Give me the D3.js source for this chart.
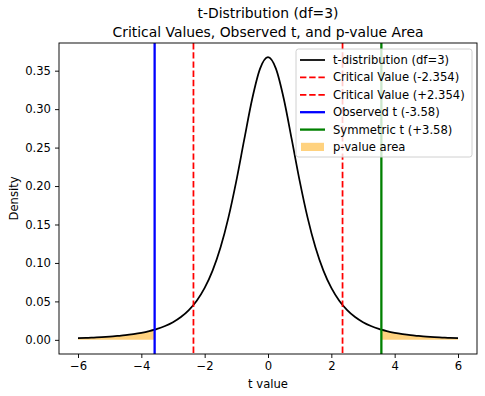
<!DOCTYPE html>
<html>
<head>
<meta charset="utf-8">
<script src="https://cdn.jsdelivr.net/npm/d3@7"></script>
<style>
  body { margin: 0; background: #fff; }
  svg { font-family: "DejaVu Sans", sans-serif; }
</style>
</head>
<body>
<script>
// t values (x) and density
const tValues = [0, 0.25, 0.5, 0.75, 1, 1.25, 1.5, 1.75, 2, 2.25, 2.5, 2.75, 3, 3.25, 3.5, 3.58, 3.75, 4, 4.25, 4.5, 4.75, 5, 5.25, 5.5, 5.75, 6]
const densityValues = [0.3676, 0.3527, 0.3132, 0.2606, 0.2067, 0.1589, 0.1200, 0.0900, 0.0675, 0.0509, 0.0387, 0.0297, 0.0230, 0.0180, 0.0142, 0.0132, 0.0114, 0.0092, 0.0075, 0.0061, 0.0051, 0.0042, 0.0035, 0.0030, 0.0025, 0.0022]
const criticalValue = 2.354
const observedT = -3.58
const xTicks = [-6, -4, -2, 0, 2, 4, 6]
const yTicks = [0, 0.05, 0.10, 0.15, 0.20, 0.25, 0.30, 0.35]
const legendLabels = ['t-distribution (df=3)', 'Critical Value (-2.354)', 'Critical Value (+2.354)', 'Observed t (-3.58)', 'Symmetric t (+3.58)', 'p-value area']

// symmetric curve
const curve = tValues.slice(1).reverse().map((t, i) => ({x: -t, y: densityValues.slice(1).reverse()[i]}))
    .concat(tValues.map((t, i) => ({x: t, y: densityValues[i]})))

const width = 485, height = 396
const margin = {top: 43, right: 8, bottom: 42, left: 59}
const fs = 11.6
const dash = '6.4,2.8'

const svg = d3.select('body').append('svg')
    .attr('width', width)
    .attr('height', height)

const x = d3.scaleLinear().domain([-6.6, 6.6]).range([margin.left, width - margin.right])
const y = d3.scaleLinear().domain([-0.0184, 0.386]).range([height - margin.bottom, margin.top])

svg.append('clipPath').attr('id', 'clip')
    .append('rect')
    .attr('x', margin.left).attr('y', margin.top)
    .attr('width', width - margin.left - margin.right)
    .attr('height', height - margin.top - margin.bottom)

const plot = svg.append('g').attr('clip-path', 'url(#clip)')

// p-value areas
const area = d3.area().x(d => x(d.x)).y0(y(0)).y1(d => y(d.y)).curve(d3.curveMonotoneX)
const absObs = Math.abs(observedT)
plot.append('path')
    .datum(curve.filter(d => d.x <= -absObs + 1e-9))
    .attr('fill', 'orange').attr('fill-opacity', 0.5)
    .attr('d', area)
plot.append('path')
    .datum(curve.filter(d => d.x >= absObs - 1e-9))
    .attr('fill', 'orange').attr('fill-opacity', 0.5)
    .attr('d', area)

// density curve
const line = d3.line().x(d => x(d.x)).y(d => y(d.y)).curve(d3.curveMonotoneX)
plot.append('path')
    .datum(curve)
    .attr('fill', 'none')
    .attr('stroke', 'black')
    .attr('stroke-width', 1.75)
    .attr('d', line)

// vertical lines
const vlines = [
    {v: -criticalValue, color: 'red', dash: dash},
    {v: criticalValue, color: 'red', dash: dash},
    {v: observedT, color: 'blue', dash: null},
    {v: -observedT, color: 'green', dash: null},
]
plot.selectAll('line.v')
    .data(vlines)
    .join('line')
    .attr('x1', d => x(d.v)).attr('x2', d => x(d.v))
    .attr('y1', margin.top).attr('y2', height - margin.bottom)
    .attr('stroke', d => d.color)
    .attr('stroke-width', d => d.dash ? 1.75 : 2.3)
    .attr('stroke-dasharray', d => d.dash)

// axes
const xAxis = svg.append('g')
    .attr('transform', `translate(0,${height - margin.bottom})`)
    .call(d3.axisBottom(x).tickValues(xTicks).tickSize(4).tickPadding(4).tickFormat(d => d3.format('d')(d).replace('-', '\u2212')))
const yAxis = svg.append('g')
    .attr('transform', `translate(${margin.left},0)`)
    .call(d3.axisLeft(y).tickValues(yTicks).tickSize(4).tickPadding(4).tickFormat(d3.format('.2f')))
for (const ax of [xAxis, yAxis]) {
    ax.select('.domain').remove()
    ax.selectAll('text').attr('font-size', fs).attr('fill', '#000').attr('font-family', 'DejaVu Sans')
    ax.selectAll('line').attr('stroke', '#000').attr('stroke-width', 0.93)
}

svg.append('rect')
    .attr('x', margin.left).attr('y', margin.top)
    .attr('width', width - margin.left - margin.right)
    .attr('height', height - margin.top - margin.bottom)
    .attr('fill', 'none').attr('stroke', '#000').attr('stroke-width', 0.93)

// labels
svg.append('text')
    .attr('x', (margin.left + width - margin.right) / 2).attr('y', height - 8)
    .attr('text-anchor', 'middle').attr('font-size', fs)
    .text('t value')
svg.append('text')
    .attr('transform', `translate(18,${(margin.top + height - margin.bottom) / 2}) rotate(-90)`)
    .attr('text-anchor', 'middle').attr('font-size', fs)
    .text('Density')
const title = svg.append('text')
    .attr('text-anchor', 'middle').attr('font-size', 13.9)
title.append('tspan').attr('x', (margin.left + width - margin.right) / 2).attr('y', 18).text('t-Distribution (df=3)')
title.append('tspan').attr('x', (margin.left + width - margin.right) / 2).attr('y', 37).text('Critical Values, Observed t, and p-value Area')

// legend
const legend = svg.append('g').attr('transform', 'translate(296,49)')
legend.append('rect')
    .attr('width', 176).attr('height', 108).attr('rx', 2.5)
    .attr('fill', 'white').attr('fill-opacity', 0.8)
    .attr('stroke', '#ccc').attr('stroke-width', 0.93)
const handles = [
    {color: 'black', dash: null, w: 1.75},
    {color: 'red', dash: dash, w: 1.75},
    {color: 'red', dash: dash, w: 1.75},
    {color: 'blue', dash: null, w: 2.3},
    {color: 'green', dash: null, w: 2.3},
    {color: 'orange', dash: null, w: 0, patch: true},
]
const rows = legend.selectAll('g.row')
    .data(legendLabels)
    .join('g')
    .attr('transform', (d, i) => `translate(0,${11 + i * 17.4})`)
rows.each(function (d, i) {
    const g = d3.select(this)
    const h = handles[i]
    if (h.patch) {
        g.append('rect').attr('x', 5).attr('y', -4.2).attr('width', 23).attr('height', 8.2)
            .attr('fill', 'orange').attr('fill-opacity', 0.5)
    } else {
        g.append('line').attr('x1', 4).attr('x2', 29)
            .attr('stroke', h.color).attr('stroke-width', h.w)
            .attr('stroke-dasharray', h.dash)
    }
    g.append('text').attr('x', 37).attr('dy', '0.35em').attr('font-size', fs).text(d)
})
</script>
</body>
</html>
